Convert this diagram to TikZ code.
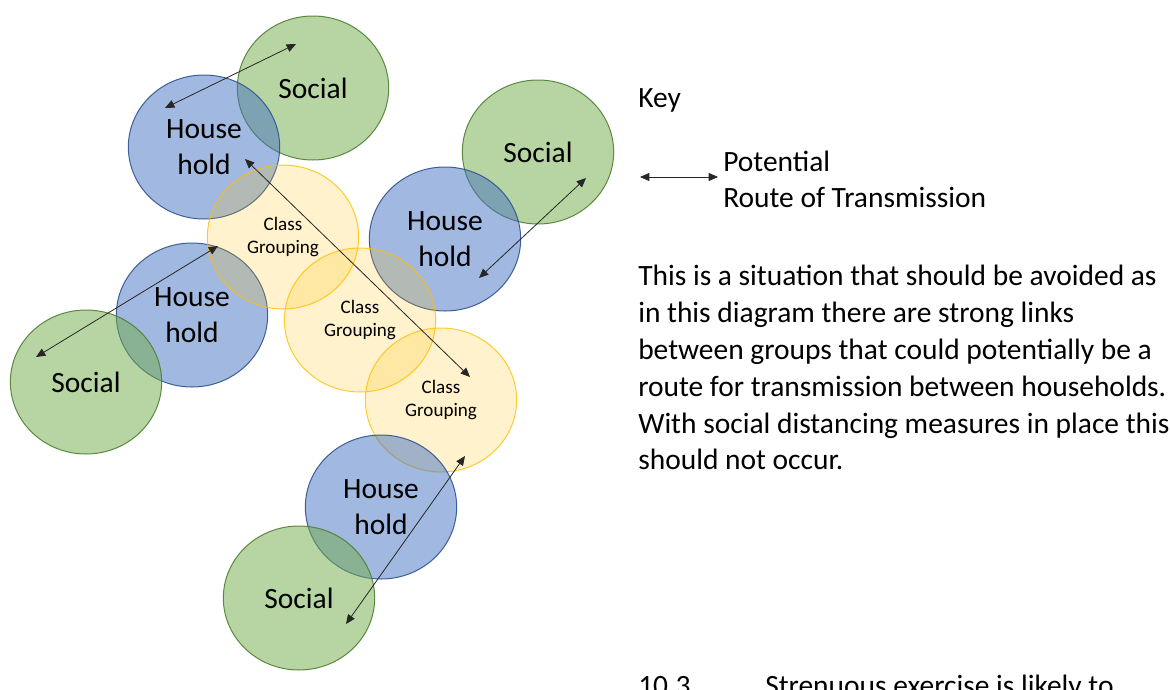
\documentclass[tikz,border=0pt]{standalone}
\usepackage{fontspec}
\setmainfont{Carlito}
\usetikzlibrary{shapes.geometric,arrows.meta}
\definecolor{hhfill}{HTML}{4472C4}
\definecolor{hhline}{HTML}{2F528F}
\definecolor{socfill}{HTML}{70AD47}
\definecolor{socline}{HTML}{507E32}
\definecolor{clsfill}{HTML}{FFC000}
\definecolor{clsline}{HTML}{FFC000}
\newcommand\bigtxt{\fontsize{22.1}{27}\selectfont}
\newcommand\smalltxt{\fontsize{14.3}{17.3}\selectfont}
\begin{document}
\begin{tikzpicture}[x=0.75pt,y=-0.75pt,
  blob/.style={ellipse, minimum width=113.5pt, minimum height=108pt, inner sep=0pt,
    align=center, text=black, text opacity=1, line width=0.75pt},
  social/.style={blob, fill=socfill, fill opacity=0.5, draw=socline, draw opacity=0.9, font=\bigtxt},
  house/.style={blob, fill=hhfill, fill opacity=0.5, draw=hhline, draw opacity=0.9, font=\bigtxt},
  classgrp/.style={blob, fill=clsfill, fill opacity=0.2, draw=clsline, draw opacity=0.8, font=\smalltxt},
  route/.style={{Triangle[length=7pt,width=6pt]}-{Triangle[length=7pt,width=6pt]}, line width=0.6pt, draw=black!85},
  txt/.style={font=\bigtxt, text=black, inner sep=0pt, anchor=base west}]
\clip (0,0) rectangle (1170,689);
\fill[white] (0,0) rectangle (1170,689);

% circles
\node[social] (s1) at (313,88) {Social};
\node[house] (h1) at (204,147) {House\\hold};
\node[social] (s3) at (538,152) {Social};
\node[house] (h3) at (445,239) {House\\hold};
\node[house] (h2) at (192,315) {House\\hold};
\node[social] (s2) at (86,382) {Social};
\node[classgrp] (c1) at (283,237) {Class\\Grouping};
\node[classgrp] (c2) at (360,320) {Class\\Grouping};
\node[classgrp] (c3) at (441,400) {Class\\Grouping};
\node[house] (h4) at (381,507) {House\\hold};
\node[social] (s4) at (299,598) {Social};

% arrow end points
\coordinate (a1s) at (165,108); \coordinate (a1e) at (296,44);
\coordinate (a2s) at (245,159); \coordinate (a2e) at (470,377);
\coordinate (a3s) at (36,357);  \coordinate (a3e) at (218,246);
\coordinate (a4s) at (479,278); \coordinate (a4e) at (586,178);
\coordinate (a5s) at (346,624); \coordinate (a5e) at (465,456);
\coordinate (k1) at (640,177);  \coordinate (k2) at (718,177);

\draw[route] (a1s) -- (a1e);
\draw[route] (a2s) -- (a2e);
\draw[route] (a3s) -- (a3e);
\draw[route] (a4s) -- (a4e);
\draw[route] (a5s) -- (a5e);
\draw[route] (k1) -- (k2);

% key and text
\node[txt] (key) at (638,107) {Key};
\node[txt] (pot) at (723,171) {Potential};
\node[txt] (rot) at (723,207) {Route of Transmission};
\node[txt] (p1) at (638,285) {This is a situation that should be avoided as};
\node[txt] (p2) at (638,322) {in this diagram there are strong links};
\node[txt] (p3) at (638,359) {between groups that could potentially be a};
\node[txt] (p4) at (638,396) {route for transmission between households.};
\node[txt] (p5) at (638,433) {With social distancing measures in place this};
\node[txt] (p6) at (638,469) {should not occur.};
\node[txt] (n1) at (638,695) {10.3};
\node[txt] (n2) at (765,695) {Strenuous exercise is likely to};
\end{tikzpicture}
\end{document}
